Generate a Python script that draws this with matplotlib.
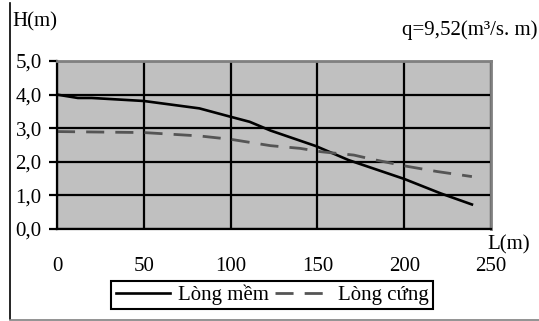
import numpy as np
import matplotlib.pyplot as plt
from matplotlib.lines import Line2D

# Du lieu doc tu hinh
L_mem = [0, 12, 20, 50, 82, 100, 111, 123, 149, 168, 200, 221, 239]
H_mem = [4.0, 3.9, 3.9, 3.81, 3.59, 3.34, 3.19, 2.93, 2.47, 2.05, 1.49, 1.06, 0.73]
L_cung = [0, 50, 82, 100, 123, 140, 152, 171, 182, 200, 219, 239]
H_cung = [2.9, 2.87, 2.77, 2.67, 2.48, 2.40, 2.30, 2.20, 2.07, 1.88, 1.71, 1.56]
x_ticks = [0, 50, 100, 150, 200, 250]
y_ticks = [0, 1, 2, 3, 4, 5]

plt.rcParams['font.family'] = ['Liberation Serif', 'DejaVu Serif']
plt.rcParams['font.size'] = 15

fig = plt.figure(figsize=(5.39, 3.21), dpi=100)
ax = fig.add_axes([57 / 539, 1 - 229 / 321, (491 - 57) / 539, (229 - 61) / 321])
ax.set_facecolor('#c0c0c0')

ax.plot(L_mem, H_mem, color='black', lw=1.9, label='Lòng mềm')
ax.plot(L_cung, H_cung, color='#555555', lw=2.0, dashes=(6.5, 4), label='Lòng cứng')

ax.set_xlim(0, 250)
ax.set_ylim(0, 5)
ax.set_xticks(x_ticks)
ax.set_yticks(y_ticks)
ax.set_yticklabels([('%.1f' % v).replace('.', ',') for v in y_ticks])
ax.grid(True, color='black', lw=1.6)
ax.set_axisbelow(True)
ax.tick_params(axis='x', length=0, pad=20)
ax.tick_params(axis='y', length=6, width=1.6, pad=5)

for s in ['top', 'right']:
    ax.spines[s].set_color('#808080')
    ax.spines[s].set_linewidth(2)
for s in ['left', 'bottom']:
    ax.spines[s].set_color('black')
    ax.spines[s].set_linewidth(1.6)

fig.text(12 / 539, 1 - 22 / 321, 'H(m)', ha='left', va='center')
fig.text(537 / 539, 1 - 30 / 321, 'q=9,52(m³/s. m)', ha='right', va='center')
fig.text(509 / 539, 1 - 245 / 321, 'L(m)', ha='center', va='center')

leg = ax.legend(loc='center', bbox_to_anchor=(272 / 539, 1 - 295 / 321),
                bbox_transform=fig.transFigure, ncol=2, fancybox=False,
                framealpha=1, edgecolor='black', handlelength=2.6,
                columnspacing=0.3, handletextpad=0.4, borderpad=0.2,
                borderaxespad=0)
leg.get_frame().set_linewidth(1.5)

# khung ngoai
fig.add_artist(Line2D([9.5 / 539, 9.5 / 539], [1 - 319 / 321, 1 - 3 / 321],
                      color='black', lw=1.2, transform=fig.transFigure))
fig.add_artist(Line2D([9.5 / 539, 1], [1 - 320 / 321, 1 - 320 / 321],
                      color='#808080', lw=1.2, transform=fig.transFigure))

fig.savefig('out.png', dpi=100)
